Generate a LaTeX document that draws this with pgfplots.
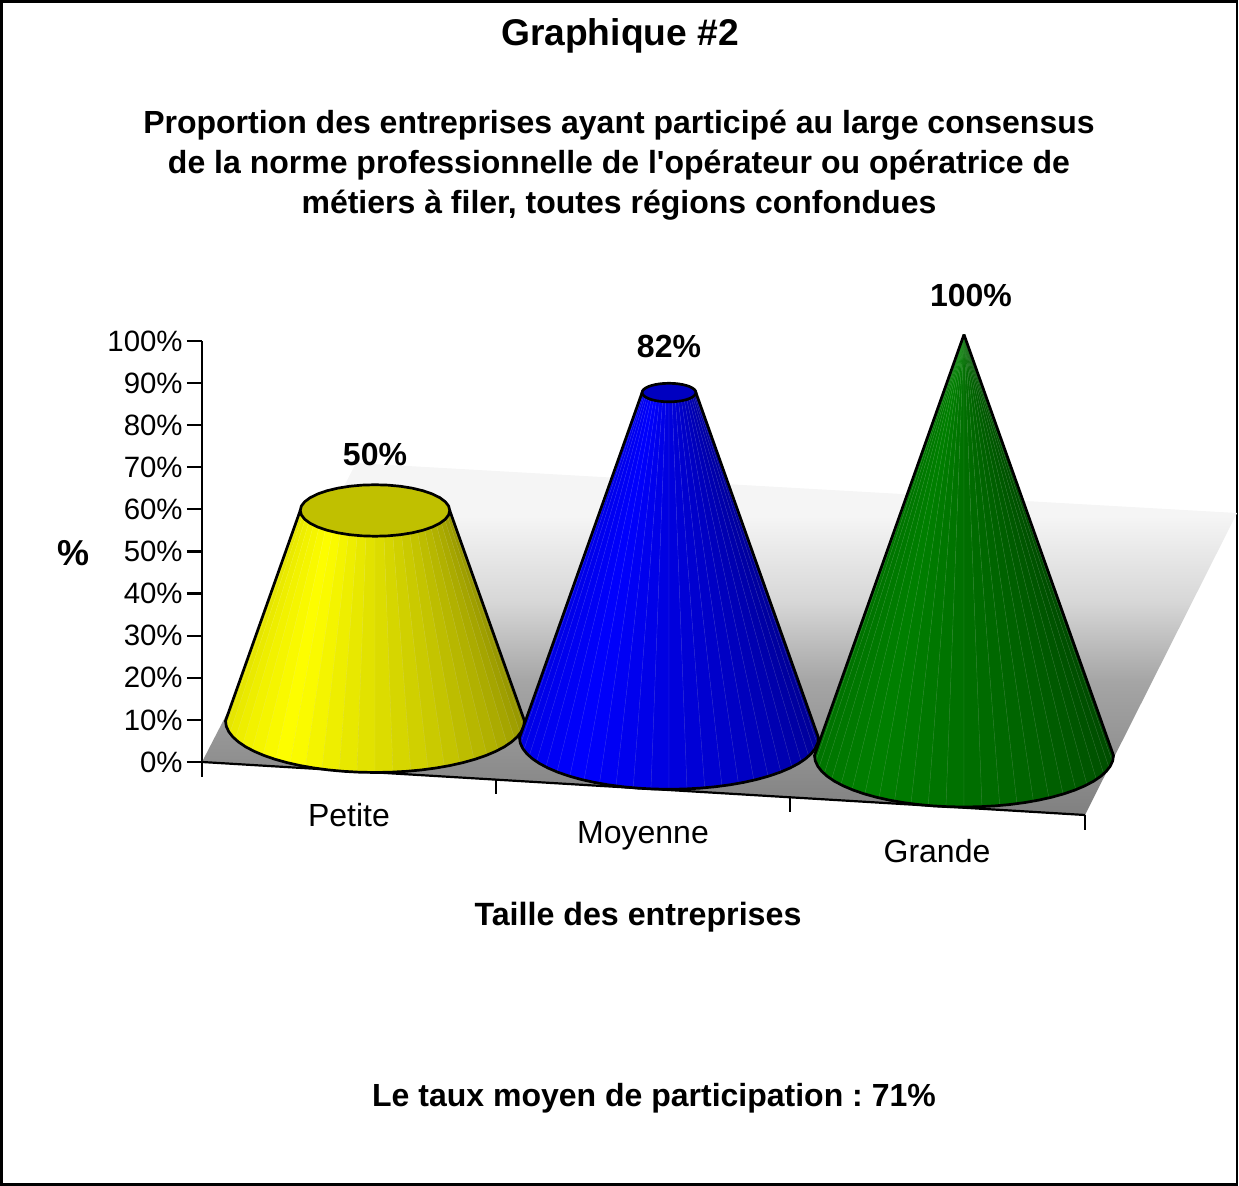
\documentclass[border=0pt]{standalone}
\usepackage{pgfplots}
\pgfplotsset{compat=1.18}
\usepackage{fontspec}
\setmainfont{Liberation Sans}[Ligatures=TeXOff]
\frenchspacing
% one cone: base RGB, centre x (px), base centre height (in % units), value (%), cap colour
\newcommand{\cone}[7]{%
  \pgfmathsetmacro\cK{1-#6/100}%
  \pgfmathsetmacro\cRx{149.5}%
  \pgfmathsetmacro\cRy{51.5/4.21}%
  \foreach \i in {0,...,25}{%
    \pgfmathsetmacro\ta{180-\i*180/26}%
    \pgfmathsetmacro\tb{180-(\i+1)*180/26}%
    \pgfmathsetmacro\tf{(\i+0.5)/26}%
    \pgfmathsetmacro\fc{\tf<0.3 ? 0.88+0.4*\tf : 1-(\tf-0.3)*0.62}%
    \pgfmathtruncatemacro\cR{#1*\fc}\pgfmathtruncatemacro\cG{#2*\fc}\pgfmathtruncatemacro\cB{#3*\fc}%
    \pgfmathtruncatemacro\sR{\cR+0.16*(255-\cR)}\pgfmathtruncatemacro\sG{\cG+0.16*(255-\cG)}\pgfmathtruncatemacro\sB{\cB+0.16*(255-\cB)}%
    \pgfmathsetmacro\xa{#4+\cRx*cos(\ta)}\pgfmathsetmacro\ya{#5-\cRy*sin(\ta)}%
    \pgfmathsetmacro\xb{#4+\cRx*cos(\tb)}\pgfmathsetmacro\yb{#5-\cRy*sin(\tb)}%
    \pgfmathsetmacro\xc{#4+\cK*\cRx*cos(\tb)}\pgfmathsetmacro\yc{#5+#6-\cK*\cRy*sin(\tb)}%
    \pgfmathsetmacro\xd{#4+\cK*\cRx*cos(\ta)}\pgfmathsetmacro\yd{#5+#6-\cK*\cRy*sin(\ta)}%
    \edef\tmp{\noexpand\addplot[forget plot,line width=0.15pt,draw={rgb,255:red,\sR;green,\sG;blue,\sB},fill={rgb,255:red,\cR;green,\cG;blue,\cB}] coordinates {(\xa,\ya)(\xb,\yb)(\xc,\yc)(\xd,\yd)} --cycle;}\tmp
  }%
  \gdef\cpath{}%
  \foreach \a in {180,174,...,0}{%
    \pgfmathsetmacro\xa{#4+\cRx*cos(\a)}\pgfmathsetmacro\ya{#5-\cRy*sin(\a)}%
    \xdef\cpath{\cpath(\xa,\ya)}%
  }%
  \pgfmathsetmacro\xl{#4-\cK*\cRx}\pgfmathsetmacro\xr{#4+\cK*\cRx}\pgfmathsetmacro\yt{#5+#6}%
  \edef\tmp{\noexpand\addplot[forget plot,draw=black,line width=1.35pt,line join=round] coordinates {(\xl,\yt)\cpath(\xr,\yt)};}\tmp
  \gdef\cpath{}%
  \foreach \a in {0,10,...,350}{%
    \pgfmathsetmacro\xa{#4+\cK*\cRx*cos(\a)}\pgfmathsetmacro\ya{#5+#6+\cK*\cRy*sin(\a)}%
    \xdef\cpath{\cpath(\xa,\ya)}%
  }%
  \edef\tmp{\noexpand\addplot[forget plot,draw=black,line width=1.35pt,fill=#7] coordinates {\cpath} --cycle;}\tmp
}
\definecolor{capY}{RGB}{192,192,0}
\definecolor{capB}{RGB}{0,0,192}
\definecolor{capG}{RGB}{0,128,0}
\definecolor{floorT}{RGB}{245,245,245}
\definecolor{floorU}{RGB}{215,215,215}
\definecolor{floorM}{RGB}{165,165,165}
\definecolor{floorB}{RGB}{128,128,128}
\pgfdeclareverticalshading{floorsh}{100bp}{color(0bp)=(floorB); color(25bp)=(floorB); color(44bp)=(floorM); color(55.3bp)=(floorU); color(67.5bp)=(floorT); color(100bp)=(floorT)}
\begin{document}
\begin{tikzpicture}
\path[use as bounding box] (0,0) rectangle (619.5pt,-593pt);
\draw[black,line width=1.2pt] (0.75pt,-0.75pt) rectangle (618.5pt,-592.25pt);
\begin{axis}[
  at={(101pt,-381pt)},anchor=south west,
  scale only axis,width=441.5pt,height=210.5pt,
  xmin=202,xmax=1085,ymin=0,ymax=100,clip=false,
  axis x line=none,axis y line=left,
  axis line style={-,line width=1.1pt,black},
  xtick=\empty,
  ytick={0,10,...,100},
  yticklabels={0\%,10\%,20\%,30\%,40\%,50\%,60\%,70\%,80\%,90\%,100\%},
  tick align=outside,major tick length=7.5pt,
  tick style={black,line width=1.1pt},
  yticklabel style={font=\fontsize{14.7pt}{16pt}\selectfont,inner xsep=0pt,xshift=-2pt},
]
% floor
\addplot[forget plot,draw=none,shade,shading=floorsh] coordinates {(202,0)(1085,-12.59)(1237,59.14)(356,71.0)} --cycle;
% slanted category axis
\addplot[forget plot,black,line width=1.1pt] coordinates {(202,0)(1085,-12.59)};
\addplot[forget plot,black,line width=1.1pt] coordinates {(202,0)(202,-3.56)};
\addplot[forget plot,black,line width=1.1pt] coordinates {(496,-4.28)(496,-7.6)};
\addplot[forget plot,black,line width=1.1pt] coordinates {(790,-8.31)(790,-11.88)};
\addplot[forget plot,black,line width=1.1pt] coordinates {(1085,-12.59)(1085,-16.15)};
% cones: value 50, 82, 100
\cone{255}{255}{0}{375}{9.74}{50}{capY}
\cone{0}{0}{255}{669}{5.75}{82}{capB}
\cone{0}{128}{0}{964}{1.54}{100}{capG}
% value labels
\addplot[forget plot,draw=none,mark=none,point meta=explicit symbolic,
  nodes near coords,nodes near coords align={center},
  every node near coord/.append style={font=\fontsize{16pt}{18pt}\bfseries\selectfont,black}]
  coordinates {(375,73.16)[50\%] (669,98.8)[82\%] (971,110.7)[100\%]};
\end{axis}
\begin{scope}[x=0.5pt,y=-0.5pt,every node/.style={inner sep=0pt,text=black}]
\node[font=\fontsize{18.6pt}{22pt}\bfseries\selectfont] at (620,36) {Graphique \#2};
\node[font=\fontsize{16pt}{20pt}\bfseries\selectfont,align=center] at (619,165) {Proportion des entreprises ayant participé au large consensus\\de la norme professionnelle de l'opérateur ou opératrice de\\métiers à filer, toutes régions confondues};
\node[font=\fontsize{18pt}{20pt}\bfseries\selectfont] at (74,553) {\%};
\node[font=\fontsize{16pt}{18pt}\selectfont] at (349,815) {Petite};
\node[font=\fontsize{16pt}{18pt}\selectfont] at (643,836) {Moyenne};
\node[font=\fontsize{16pt}{18pt}\selectfont] at (937,851) {Grande};
\node[font=\fontsize{16.1pt}{20pt}\bfseries\selectfont] at (638,917) {Taille des entreprises};
\node[font=\fontsize{16pt}{20pt}\bfseries\selectfont] at (654,1098) {Le taux moyen de participation : 71\%};
\end{scope}
\end{tikzpicture}
\end{document}
